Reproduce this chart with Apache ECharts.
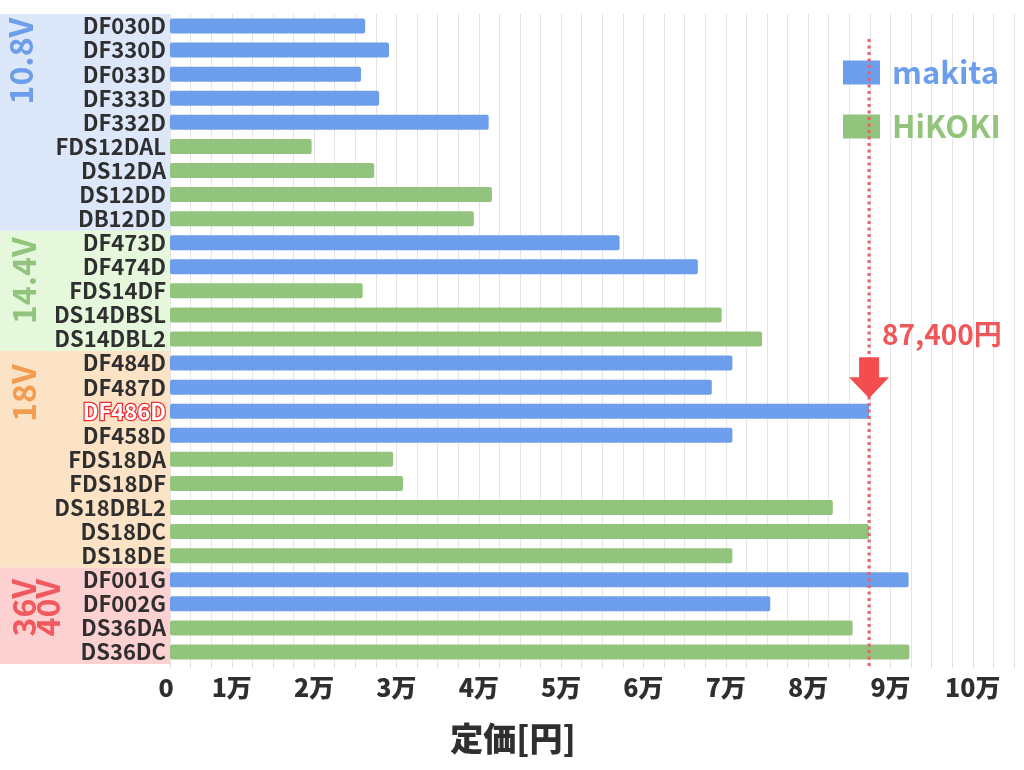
<!DOCTYPE html>
<html>
<head>
<meta charset="utf-8">
<script src="https://cdn.jsdelivr.net/npm/echarts@6/dist/echarts.min.js"></script>
<style>
html,body{margin:0;padding:0;background:#fff;}
#chart{width:1024px;height:770px;}
</style>
</head>
<body>
<div id="chart"></div>
<script>
// ---- data ----
const categories = ['DF030D','DF330D','DF033D','DF333D','DF332D','FDS12DAL','DS12DA','DS12DD','DB12DD',
  'DF473D','DF474D','FDS14DF','DS14DBSL','DS14DBL2',
  'DF484D','DF487D','DF486D','DF458D','FDS18DA','FDS18DF','DS18DBL2','DS18DC','DS18DE',
  'DF001G','DF002G','DS36DA','DS36DC'];
const prices = [26200,29100,25700,27900,41200,19700,27300,41600,39400,
  57100,66600,25900,69500,74400,
  70800,68300,87400,70800,29600,30800,83000,87400,70800,
  92200,75400,85400,92300];
const makers = ['makita','makita','makita','makita','makita','HiKOKI','HiKOKI','HiKOKI','HiKOKI',
  'makita','makita','HiKOKI','HiKOKI','HiKOKI',
  'makita','makita','makita','makita','HiKOKI','HiKOKI','HiKOKI','HiKOKI','HiKOKI',
  'makita','makita','HiKOKI','HiKOKI'];
const seriesNames = ['makita','HiKOKI'];
const groupNames = ['10.8V','14.4V','18V','36V\n40V'];
const groupSizes = [9,5,9,4];
const highlighted = 'DF486D';
const axisTitle = '定価[円]';

// ---- styles ----
const seriesColors = {makita:'#6d9eeb', HiKOKI:'#93c47d'};
const groupBg = ['#dce7fa','#e6f8dc','#fde3c6','#fdd0d2'];
const groupFg = ['#6d9eeb','#93c47d','#f39c50','#f05a5e'];
const groupOffsets = [[21,47],[24,50],[24,42],[36,40]]; // label centre: x, y from group top
const FONT = '"Noto Sans CJK JP", "Noto Sans", sans-serif';
const TXT = '#2f2f2f';

const chart = echarts.init(document.getElementById('chart'), null, {renderer:'canvas'});

const series = seriesNames.map(n => ({
  name: n,
  type: 'bar',
  barWidth: 15,
  barGap: '-100%',
  itemStyle: {color: seriesColors[n], borderRadius: 2},
  data: categories.map((c, i) => makers[i] === n ? prices[i] : null)
}));

chart.setOption({
  backgroundColor: '#fff',
  animation: false,
  textStyle: {fontFamily: FONT},
  grid: {left: 170, right: 10, top: 14, bottom: 106, containLabel: false},
  legend: {
    orient: 'vertical',
    left: 838, top: 52,
    itemWidth: 37, itemHeight: 24, itemGap: 23,
    icon: 'rect',
    textStyle: {fontSize: 31, fontWeight: 'bold', fontFamily: FONT, lineHeight: 30, padding: [0,0,0,7]},
    data: seriesNames.map(n => ({name: n, textStyle: {color: seriesColors[n]}}))
  },
  xAxis: {
    type: 'value',
    min: 2500, max: 105000, interval: 2500,
    axisLine: {show: false},
    axisTick: {show: true, length: 4, lineStyle: {color: '#dcdcdc'}},
    splitLine: {show: true, lineStyle: {color: '#e4e4e4', width: 1}},
    axisLabel: {
      margin: 11,
      fontSize: 25, fontWeight: 900, color: TXT, fontFamily: FONT,
      showMinLabel: true, showMaxLabel: true,
      formatter: v => v === 2500 ? '{z|0}' : (v % 10000 === 0 ? (v / 10000) + '万' : ''),
      rich: {z: {fontSize: 25, fontWeight: 900, color: TXT, fontFamily: FONT, padding: [0, 8, 0, 0]}}
    }
  },
  yAxis: {
    type: 'category',
    inverse: true,
    data: categories,
    axisLine: {show: false},
    axisTick: {show: false},
    splitLine: {show: false},
    axisLabel: {
      margin: 4,
      interval: 0,
      formatter: v => v === highlighted ? '{hl|' + v + '}' : '{n|' + v + '}',
      rich: {
        n: {fontSize: 22, fontWeight: 'bold', color: TXT, fontFamily: FONT},
        hl: {fontSize: 22, fontWeight: 'bold', color: '#fff', fontFamily: FONT,
             textBorderColor: '#ee2a33', textBorderWidth: 2.5}
      }
    }
  },
  series: series
});

// ---- overlays placed through the axes ----
const bandH = (chart.convertToPixel({yAxisIndex:0}, categories[1]) - chart.convertToPixel({yAxisIndex:0}, categories[0]));
const graphics = [];
let start = 0;
groupNames.forEach((g, gi) => {
  const top = chart.convertToPixel({yAxisIndex:0}, categories[start]) - bandH / 2;
  const bottom = chart.convertToPixel({yAxisIndex:0}, categories[start + groupSizes[gi] - 1]) + bandH / 2;
  graphics.push({type:'rect', z:-10, shape:{x:0, y:top, width:170, height:bottom - top}, style:{fill: groupBg[gi]}, silent:true});
  graphics.push({type:'text', z:5, x: groupOffsets[gi][0], y: top + groupOffsets[gi][1], rotation: Math.PI/2,
    style:{text: g, fill: groupFg[gi], font: 'bold 32px ' + FONT, align:'center', verticalAlign:'middle', lineHeight: 24}});
  start += groupSizes[gi];
});
// highlighted price marker
const hiIdx = categories.indexOf(highlighted);
const hiVal = prices[hiIdx];
const cx = chart.convertToPixel({xAxisIndex:0}, hiVal);
const cy = chart.convertToPixel({yAxisIndex:0}, highlighted);
graphics.push({type:'line', z:20, shape:{x1:cx, y1:39, x2:cx, y2:668},
  style:{stroke:'#e8606a', lineWidth:3, lineDash:[3,3.5]}, silent:true});
const tip = cy - 13;
graphics.push({type:'polygon', z:21, shape:{points:[
  [cx-10, tip-41],[cx+10, tip-41],[cx+10, tip-21],[cx+20, tip-21],[cx, tip],[cx-20, tip-21],[cx-10, tip-21]]},
  style:{fill:'#f44d50'}});
graphics.push({type:'text', z:21, x: cx + 13, y: tip - 64,
  style:{text: hiVal.toLocaleString('en-US') + '円', fill:'#f0575a', font:'bold 28px ' + FONT, align:'left', verticalAlign:'middle'}});
// axis title
graphics.push({type:'text', z:21, x: 513, y: 738,
  style:{text: axisTitle, fill: TXT, font:'900 33px ' + FONT, align:'center', verticalAlign:'middle'}});
chart.setOption({graphic: graphics});
</script>
</body>
</html>
